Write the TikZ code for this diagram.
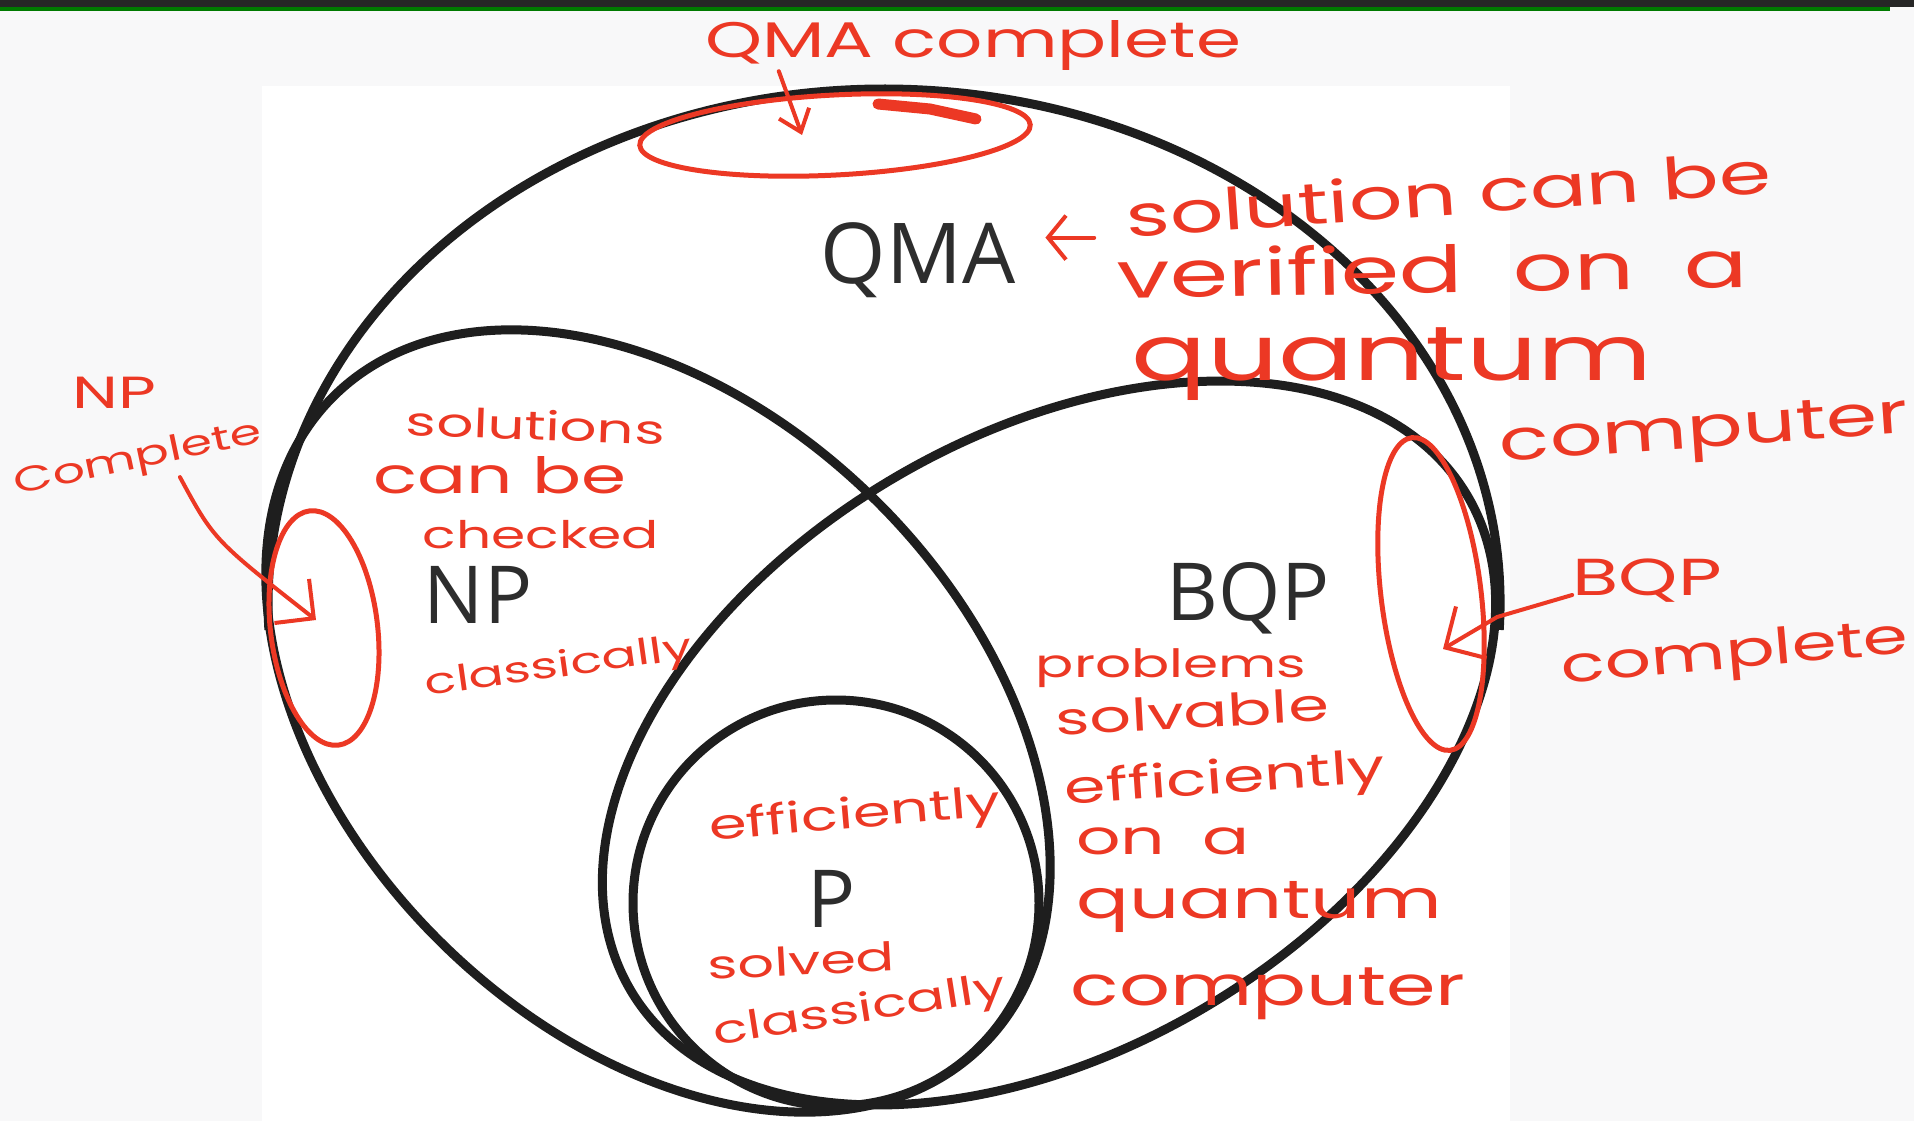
\documentclass[tikz,border=0pt]{standalone}
\usepackage{fontspec}
\newfontfamily\handfont[FakeStretch=1.45]{Poppins}
\newfontfamily\labelfont{Open Sans}
\usetikzlibrary{shapes.geometric,arrows.meta}
\definecolor{handred}{RGB}{236,56,36}
\definecolor{setline}{RGB}{30,30,30}
\definecolor{labelgray}{RGB}{45,45,45}
\definecolor{pagegray}{RGB}{248,248,249}
\definecolor{barblack}{RGB}{38,38,38}
\definecolor{bargreen}{RGB}{0,122,0}
\newcommand\hsz[1]{\fontsize{#1}{#1}\selectfont}

\begin{document}
\begin{tikzpicture}[x=1pt, y=-1pt,
    set/.style={draw=setline, line width=9pt},
    lbl/.style={text=labelgray, font=\labelfont\hsz{80}, inner sep=0pt, anchor=base},
    note/.style={text=handred, inner sep=0pt, anchor=base},
    oval/.style={draw=handred, line width=5pt, ellipse, inner sep=0pt},
    pen/.style={draw=handred, line width=4pt, line cap=round, line join=round}]
    \useasboundingbox (0,0) rectangle (1914,1121);
    \fill[pagegray] (0,0) rectangle (1914,1121);
    \fill[barblack] (0,0) rectangle (1914,7);
    \fill[bargreen] (0,7) rectangle (1890,11);
    \fill[white] (262,86) rectangle (1510,1121);

    \draw[set] (1499.2,629.9) arc [start angle=-3, end angle=183, x radius=616pt, y radius=514pt];
    \draw[set, rotate around={-44.8:(658,721)}] (658,721) ellipse [x radius=459pt, y radius=310pt];
    \draw[set, rotate around={30.6:(1049,743)}] (1049,743) ellipse [x radius=486pt, y radius=307pt];
    \draw[set] (836,903) circle [radius=203pt];

    \node[lbl, font=\labelfont\hsz{84}] (qma) at (918,283) {QMA};
    \node[lbl] (np) at (478,623) {NP};
    \node[lbl] (bqp) at (1248,620) {BQP};
    \node[lbl] (p) at (832,927) {P};

    \node[note, font=\handfont\hsz{50}] (qmac) at (973,58) {QMA complete};
    \node[oval, minimum width=391pt, minimum height=80pt, rotate=3] (qmaco) at (835,135) {};
    \draw[handred, line width=11pt, line cap=round] (878,104) -- (930,109) -- (976,119);
    \draw[pen, -{Straight Barb[length=20pt, width=32pt]}] ([xshift=74pt]qmac.south west) -- ([xshift=-33pt]qmaco.center);

    \node[note, font=\handfont\hsz{58}, rotate=4] (v1) at (1450,215) {solution can be};
    \node[note, font=\handfont\hsz{65}, rotate=1] (v2) at (1433,293) {verified\ \ on\ \ a};
    \node[note, font=\handfont\hsz{77}] (v3) at (1392,380) {quantum};
    \node[note, font=\handfont\hsz{57}, rotate=4] (v4) at (1705,447) {computer};
    \draw[pen, -{Straight Barb[length=18pt, width=44pt]}, shorten <=33pt, shorten >=30pt] (v1.base west) -- (v1.base west -| qma.east);

    \node[note, font=\handfont\hsz{45}] (c1) at (114,408) {NP};
    \node[note, font=\handfont\hsz{35}, rotate=12] (c2) at (140,468) {Complete};
    \node[oval, minimum width=107pt, minimum height=236pt, rotate=7] (c3) at (324,628) {};
    \draw[pen, -{Straight Barb[length=28pt, width=56pt]}] ([xshift=38pt]c2.south) .. controls (214,540) .. ([shift={(-8,-8)}]c3.center);

    \node[note, font=\handfont\hsz{40}, rotate=-2] (s1) at (535,440) {solutions};
    \node[note, font=\handfont\hsz{50}] (s2) at (500,493) {can be};
    \node[note, font=\handfont\hsz{38}] (s3) at (541,548) {checked};
    \node[note, font=\handfont\hsz{36}, rotate=8] (s4) at (560,677) {classically};

    \node[note, font=\handfont\hsz{39}] (q1) at (1171,677) {problems};
    \node[note, font=\handfont\hsz{45}, rotate=3] (q2) at (1193,728) {solvable};
    \node[note, font=\handfont\hsz{46}, rotate=4] (q3) at (1226,793) {efficiently};
    \node[note, font=\handfont\hsz{48}] (q4) at (1163,854) {on\ \ a};
    \node[note, font=\handfont\hsz{54}] (q5) at (1259,918) {quantum};
    \node[note, font=\handfont\hsz{55}] (q6) at (1268,1005) {computer};

    \node[note, font=\handfont\hsz{52}] (b1) at (1647,595) {BQP};
    \node[note, font=\handfont\hsz{50}, rotate=5] (b2) at (1736,668) {complete};
    \node[oval, minimum width=100pt, minimum height=315pt, rotate=7] (b3) at (1431,594) {};
    \draw[pen, -{Straight Barb[length=30pt, width=60pt]}] (b1.base west) -- ++(-75,22) -- ([shift={(12,55)}]b3.center);

    \node[note, font=\handfont\hsz{42}, rotate=5] (e1) at (856,828) {efficiently};
    \node[note, font=\handfont\hsz{39.5}, rotate=3] (e2) at (802,975) {solved};
    \node[note, font=\handfont\hsz{39.5}, rotate=9] (e3) at (861,1022) {classically};
\end{tikzpicture}
\end{document}
